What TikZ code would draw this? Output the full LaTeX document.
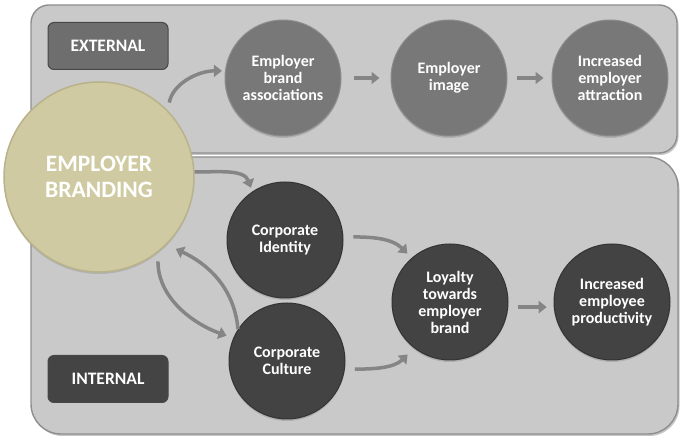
\documentclass[tikz,border=0pt]{standalone}
\usepackage{fontspec}
\setmainfont{Carlito}
\usetikzlibrary{arrows.meta, calc, positioning, shadows}
\definecolor{panelgray}{HTML}{C9C9C9}
\definecolor{panelline}{HTML}{8E8E8E}
\definecolor{extgray}{HTML}{6E6E6E}
\definecolor{intgray}{HTML}{444444}
\definecolor{topcirc}{HTML}{787878}
\definecolor{botcirc}{HTML}{434343}
\definecolor{brandfill}{HTML}{CFCAA2}
\definecolor{brandline}{HTML}{B9B28A}
\definecolor{arrowgray}{HTML}{858585}
\tikzset
{%
panel/.style={fill=panelgray, draw=panelline, line width=1.4pt, drop shadow={shadow xshift=1.5pt, shadow yshift=-2pt, opacity=0.45}},
sidetag/.style={draw=black!72, line width=1pt, rounded corners=6pt, minimum width=120pt, minimum height=47pt, text=white, font=\bfseries\fontsize{17.5}{19}\selectfont},
stage/.style={circle, line width=1pt, minimum size=116pt, inner sep=0pt, text=white, align=center, font=\bfseries\fontsize{16}{17}\selectfont, drop shadow={shadow xshift=0pt, shadow yshift=-2pt, opacity=0.35}},
extstage/.style={stage, fill=topcirc, draw=black!45},
intstage/.style={stage, fill=botcirc, draw=black!80},
brand/.style={circle, fill=brandfill, draw=brandline, line width=1.5pt, minimum size=190pt, inner sep=0pt, text=white, align=center, font=\bfseries\fontsize{23.5}{26}\selectfont, drop shadow={shadow xshift=0pt, shadow yshift=-2pt, opacity=0.3}},
flow/.style={every edge/.style={draw=arrowgray, line width=3.5pt, -{Triangle[length=8pt,width=12pt]}}}
}

\begin{document}
\begin{tikzpicture}[x=1pt, y=1pt]
	\useasboundingbox (0,0) rectangle (686,442);
	
	% PANELS
	\path[panel, rounded corners=18pt] (31,289) rectangle (677,437);
	\path[panel, rounded corners=30pt] (31,8) rectangle (678,285);
	
	\node[sidetag, fill=extgray] (ext) at (108,396) {EXTERNAL};
	\node[sidetag, fill=intgray] (int) at (108,63) {INTERNAL};
	
	% EXTERNAL ROW
	\node[extstage] (assoc) at (283,364) {Employer\\brand\\associations};
	\node[extstage, right=49pt of assoc] (image) {Employer\\image};
	\node[extstage, right=44pt of image] (attract) {Increased\\employer\\attraction};
	
	% INTERNAL ROW
	\node[intstage] (ident) at (285,202) {Corporate\\Identity};
	\node[intstage] (cult) at (287,81) {Corporate\\Culture};
	\node[intstage] (loyal) at (450,140) {Loyalty\\towards\\employer\\brand};
	\node[intstage, right=45pt of loyal] (prod) {Increased\\employee\\productivity};
	
	\node[brand] (eb) at (99,265) {EMPLOYER\\BRANDING};
	
	\path[flow] (eb.44) edge[out=80, in=180, shorten <=8pt, shorten >=3pt] (assoc.173)
	(assoc) edge[shorten <=12pt, shorten >=11pt] (image)
	(image) edge[shorten <=9pt, shorten >=8pt] (attract);
	\path[flow] (eb.3) edge[out=0, in=110, shorten >=4pt] (ident.124)
	(ident.3) edge[out=0, in=135, shorten <=10pt, shorten >=6pt] (loyal.131)
	(cult.-8) edge[out=0, in=225, shorten <=10pt, shorten >=9pt] (loyal.232)
	(loyal.-5) edge[shorten <=10pt, shorten >=7pt] (prod.185);
	\path[flow] (cult.147) edge[out=95, in=-25, shorten >=10pt] (eb.-45)
	(eb.-52) edge[out=-90, in=160, shorten <=9pt, shorten >=7pt] (cult.157);
\end{tikzpicture}
\end{document}
